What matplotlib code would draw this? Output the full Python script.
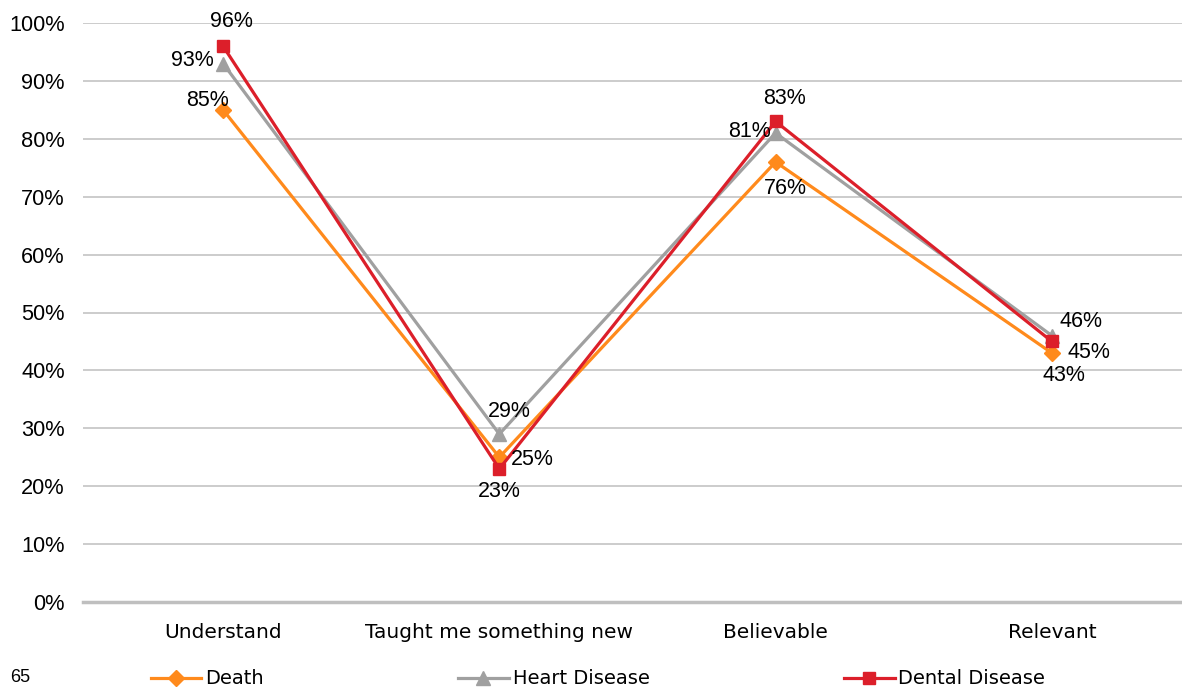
import matplotlib.pyplot as plt
from matplotlib.ticker import FuncFormatter

plt.rcParams['font.family'] = ['Liberation Sans', 'DejaVu Sans']

categories = ['Understand', 'Taught me something new', 'Believable', 'Relevant']
death = [85, 25, 76, 43]
heart = [93, 29, 81, 46]
dental = [96, 23, 83, 45]

# label offsets (points) for each series at each category
death_off = [(-11.5, 6.5), (24, -1.5), (7, -19), (9, -16)]
heart_off = [(-22, 2), (7, 16.5), (-19, 1), (21, 10)]
dental_off = [(6, 18), (0, -16.5), (6.5, 16.5), (27, -8)]

series = [
    ('Death', death, '#FF8A1C', 'D', 8, death_off),
    ('Heart Disease', heart, '#A0A0A0', '^', 10, heart_off),
    ('Dental Disease', dental, '#DC1F2A', 's', 9, dental_off),
]

fig = plt.figure(figsize=(11.82, 6.90), dpi=100)
ax = fig.add_axes([83 / 1182, 1 - 602 / 690, 1107 / 1182, (602 - 23) / 690])

x = list(range(len(categories)))
for name, vals, color, marker, ms, offs in series:
    ax.plot(x, vals, color=color, lw=2.3, marker=marker, markersize=ms,
            label=name, zorder=3, clip_on=False)
    for xi, v, (dx, dy) in zip(x, vals, offs):
        ax.annotate(f'{v}%', (xi, v), xytext=(dx, dy), textcoords='offset points',
                    ha='center', va='center', fontsize=15.5, color='black', zorder=5)

ax.set_xlim(-0.507, 3.5)
ax.set_ylim(0, 100)
ax.set_yticks(range(0, 101, 10))
ax.yaxis.set_major_formatter(FuncFormatter(lambda v, p: f'{int(v)}%'))
ax.set_xticks(x)
ax.set_xticklabels(categories, family=['DejaVu Sans'], fontsize=14.5)
ax.tick_params(axis='both', length=0)
ax.tick_params(axis='x', pad=15)
ax.tick_params(axis='y', pad=13, labelsize=15.7)
ax.grid(axis='y', color='#C8C8C8', lw=1.3, zorder=0)
for s in ['top', 'right', 'left']:
    ax.spines[s].set_visible(False)
ax.spines['bottom'].set_color('#BFBFBF')
ax.spines['bottom'].set_linewidth(2.5)

fig.legend(loc='center', bbox_to_anchor=(598 / 1182, 1 - 679 / 690), ncol=3,
           frameon=False, prop={'family': 'DejaVu Sans', 'size': 14},
           handlelength=2.6, handletextpad=0.2, columnspacing=10.0,
           borderaxespad=0, borderpad=0)

fig.text(20 / 1182, 1 - 677 / 690, '65', fontsize=13, va='center', ha='center',
         family=['Liberation Sans Narrow', 'Liberation Sans'])

fig.savefig('out.png', dpi=100)
